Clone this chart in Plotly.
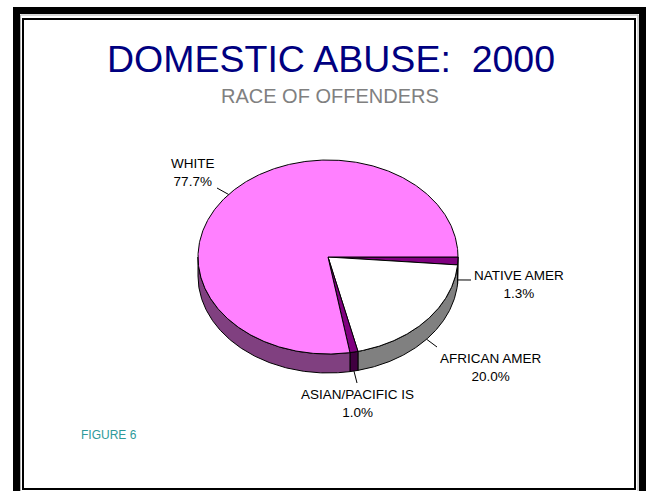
import numpy as np
import plotly.graph_objects as go

# Offender race breakdown, in drawing order (clockwise from 3 o'clock)
categories = ["NATIVE AMER", "AFRICAN AMER", "ASIAN/PACIFIC IS", "WHITE"]
shares = [1.3, 20.0, 1.0, 77.7]

title_text = "DOMESTIC ABUSE:\u00a0\u00a02000"
subtitle_text = "RACE OF OFFENDERS"
footer_text = "FIGURE 6"

# Styling for each slice: top face and front wall
top_colors = ["#800080", "#FFFFFF", "#800080", "#FF80FF"]
side_colors = ["#400040", "#808080", "#400040", "#804080"]

W, H = 649, 491
CX, CY = 328.0, 257.0       # centre of the pie's top face (pixels)
RX, RY = 130.0, 97.0        # ellipse radii of the tilted disc
DEPTH = 19.0                # thickness of the disc

# label text centre and leader end point for each category
label_pos = {
    "NATIVE AMER": ((519, 284), (471, 280)),
    "AFRICAN AMER": ((491, 367), (437, 347)),
    "ASIAN/PACIFIC IS": ((357, 403), (357, 383)),
    "WHITE": ((193, 172), (217, 188)),
}


def ell(t_deg, dy=0.0):
    t = np.radians(t_deg)
    return CX + RX * np.cos(t), CY + RY * np.sin(t) + dy


fig = go.Figure()

total = float(sum(shares))
angles = np.concatenate([[0.0], np.cumsum(shares) / total * 360.0])

# front walls (only the half facing the viewer, 0..180 degrees)
for i, cat in enumerate(categories):
    a0, a1 = angles[i], angles[i + 1]
    lo, hi = max(a0, 0.0), min(a1, 180.0)
    if hi <= lo:
        continue
    ts = np.linspace(lo, hi, max(int((hi - lo) * 2), 4))
    xt, yt = ell(ts)
    xb, yb = ell(ts[::-1], DEPTH)
    xs = np.concatenate([xt, xb, xt[:1]])
    ys = np.concatenate([yt, yb, yt[:1]])
    fig.add_trace(go.Scatter(
        x=xs, y=ys, mode="lines", fill="toself",
        fillcolor=side_colors[i], line=dict(color="black", width=1),
        hoverinfo="skip", showlegend=False,
    ))

# top faces
for i, cat in enumerate(categories):
    a0, a1 = angles[i], angles[i + 1]
    ts = np.linspace(a0, a1, max(int((a1 - a0) * 2), 4))
    xa, ya = ell(ts)
    xs = np.concatenate([[CX], xa, [CX]])
    ys = np.concatenate([[CY], ya, [CY]])
    fig.add_trace(go.Scatter(
        x=xs, y=ys, mode="lines", fill="toself",
        fillcolor=top_colors[i], line=dict(color="black", width=1),
        hoverinfo="skip", showlegend=False,
    ))

# labels with leader lines from the slice's outer edge
for i, cat in enumerate(categories):
    mid = (angles[i] + angles[i + 1]) / 2.0
    front = 0.0 <= (mid % 360) <= 180.0
    sx, sy = ell(mid, DEPTH if front else 0.0)
    (tx, ty), (ex, ey) = label_pos[cat]
    fig.add_trace(go.Scatter(
        x=[sx, ex], y=[sy, ey], mode="lines",
        line=dict(color="black", width=1),
        hoverinfo="skip", showlegend=False,
    ))
    fig.add_annotation(
        x=tx, y=ty, xref="x", yref="y", showarrow=False,
        text=f"{cat}<br>{shares[i]:.1f}%",
        font=dict(family="Arial, Liberation Sans, sans-serif", size=13.5, color="black"),
        xanchor="center", yanchor="middle", align="center",
    )

# titles
fig.add_annotation(
    x=331, y=58.5, xref="x", yref="y", showarrow=False, text=title_text,
    font=dict(family="Arial, Liberation Sans, sans-serif", size=37.5, color="#000080"),
    xanchor="center", yanchor="middle",
)
fig.add_annotation(
    x=330, y=95.5, xref="x", yref="y", showarrow=False, text=subtitle_text,
    font=dict(family="Arial, Liberation Sans, sans-serif", size=20, color="#808080"),
    xanchor="center", yanchor="middle",
)
fig.add_annotation(
    x=79, y=435, xref="x", yref="y", showarrow=False, text=footer_text,
    font=dict(family="Arial, Liberation Sans, sans-serif", size=12, color="#2E9A9A"),
    xanchor="left", yanchor="middle",
)

# double frame around the slide
fig.add_shape(type="rect", x0=16.5, y0=10.5, x1=642.5, y1=500,
              line=dict(color="black", width=7), xref="x", yref="y", layer="above")
fig.add_shape(type="rect", x0=20.5, y0=15, x1=638, y1=492,
              line=dict(color="#B0B0B0", width=1), xref="x", yref="y", layer="above")
fig.add_shape(type="rect", x0=23, y0=19, x1=635, y1=489,
              line=dict(color="black", width=2), xref="x", yref="y", layer="above")

fig.update_layout(
    width=W, height=H,
    margin=dict(l=0, r=0, t=0, b=0),
    paper_bgcolor="white", plot_bgcolor="white",
    xaxis=dict(range=[0, W], visible=False, fixedrange=True),
    yaxis=dict(range=[H, 0], visible=False, fixedrange=True),
    showlegend=False,
)

fig.write_html("out.html")
